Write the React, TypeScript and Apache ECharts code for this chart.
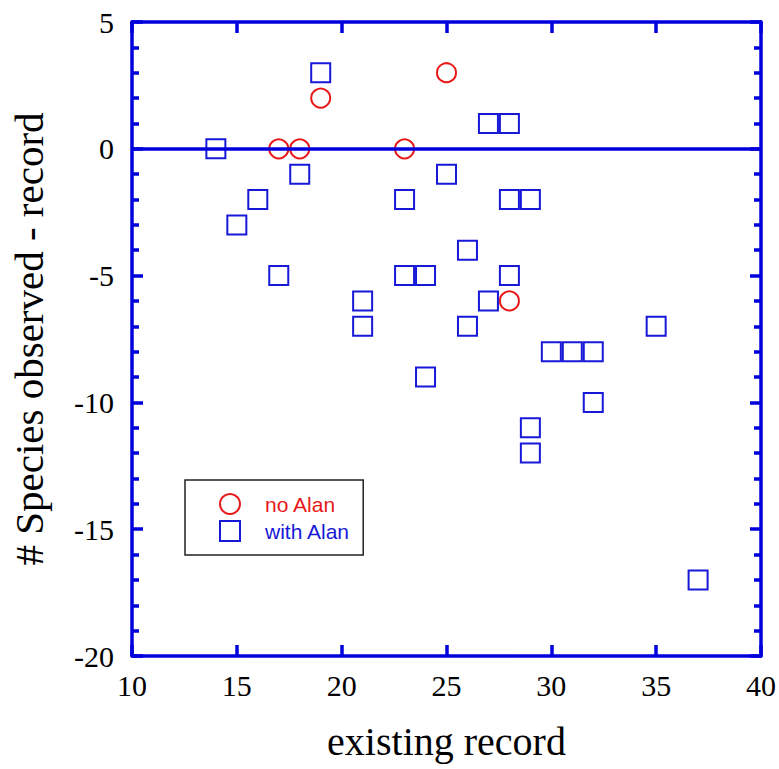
import React, { useEffect, useRef } from "react";
import * as echarts from "echarts";

const noAlan: [number, number][] = [
  [17, 0], [18, 0], [19, 2], [23, 0], [25, 3], [28, -6],
];
const withAlan: [number, number][] = [
  [14, 0], [15, -3], [16, -2], [17, -5], [18, -1], [19, 3],
  [21, -6], [21, -7], [23, -2], [23, -5], [24, -5], [24, -9],
  [25, -1], [26, -4], [26, -7], [27, 1], [27, -6], [28, 1],
  [28, -2], [28, -5], [29, -2], [29, -11], [29, -12], [30, -8],
  [31, -8], [32, -8], [32, -10], [35, -7], [37, -17],
];
const xRange = [10, 40];
const yRange = [-20, 5];
const xTitle = "existing record";
const yTitle = "# Species observed - record";
const seriesNames = ["no Alan", "with Alan"];

const AXIS = "#0000DD";
const RED = "#E81818";
const BLUE = "#1818D8";
const SERIF = "'Liberation Serif', 'Times New Roman', serif";
const SANS = "'Liberation Sans', Arial, sans-serif";

export default function App() {
  const ref = useRef<HTMLDivElement>(null);
  useEffect(() => {
    if (!ref.current) return;
    const chart = echarts.init(ref.current, undefined, { renderer: "svg" });
    const axisLine = { show: true, lineStyle: { color: AXIS, width: 3.5 } };
    const majorTick = { show: true, inside: true, length: 11, lineStyle: { color: AXIS, width: 3.5 } };
    const minorTick = { show: true, splitNumber: 5, length: 7, lineStyle: { color: AXIS, width: 3.5 } };
    chart.setOption({
      animation: false,
      backgroundColor: "#fff",
      grid: { left: 128, right: 18, top: 22, bottom: 113 },
      legend: {
        left: 185,
        top: 480,
        orient: "vertical",
        backgroundColor: "#fff",
        borderColor: "#222",
        borderWidth: 1.5,
        padding: [13, 13, 13, 34],
        itemGap: 5,
        itemWidth: 20,
        itemHeight: 20,
        textStyle: { fontFamily: SANS, fontSize: 21, padding: [0, 0, 0, 20] },
        data: [
          { name: seriesNames[0], textStyle: { color: RED } },
          { name: seriesNames[1], textStyle: { color: BLUE } },
        ],
      },
      xAxis: [
        {
          type: "value",
          min: xRange[0],
          max: xRange[1],
          interval: 5,
          position: "bottom",
          axisLine: { ...axisLine, onZero: false },
          axisTick: majorTick,
          splitLine: { show: false },
          axisLabel: { fontFamily: SERIF, fontSize: 30, color: "#000", margin: 14 },
          name: xTitle,
          nameLocation: "middle",
          nameGap: 65,
          nameTextStyle: { fontFamily: SERIF, fontSize: 40, color: "#000" },
        },
        {
          type: "value",
          min: xRange[0],
          max: xRange[1],
          interval: 5,
          position: "top",
          axisLine: { ...axisLine, onZero: false },
          axisTick: majorTick,
          splitLine: { show: false },
          axisLabel: { show: false },
        },
      ],
      yAxis: [
        {
          type: "value",
          min: yRange[0],
          max: yRange[1],
          interval: 5,
          position: "left",
          axisLine: { ...axisLine, onZero: false },
          axisTick: majorTick,
          minorTick,
          splitLine: { show: false },
          axisLabel: { fontFamily: SERIF, fontSize: 30, color: "#000", margin: 18 },
          name: yTitle,
          nameLocation: "middle",
          nameRotate: 90,
          nameGap: 83,
          nameTextStyle: { fontFamily: SERIF, fontSize: 41, color: "#000" },
        },
        {
          type: "value",
          min: yRange[0],
          max: yRange[1],
          interval: 5,
          position: "right",
          axisLine: { ...axisLine, onZero: false },
          axisTick: majorTick,
          minorTick,
          splitLine: { show: false },
          axisLabel: { show: false },
        },
      ],
      series: [
        {
          name: "zero",
          type: "line",
          data: [],
          z: 1,
          silent: true,
          markLine: {
            silent: true,
            symbol: "none",
            label: { show: false },
            lineStyle: { color: AXIS, width: 3.5, type: "solid" },
            data: [{ yAxis: 0 }],
          },
        },
        {
          name: seriesNames[0],
          type: "scatter",
          z: 3,
          symbol: "circle",
          symbolSize: 19,
          itemStyle: { color: "#fff", borderColor: RED, borderWidth: 2, opacity: 1 },
          data: noAlan,
        },
        {
          name: seriesNames[1],
          type: "scatter",
          z: 3,
          symbol: "rect",
          symbolSize: 19,
          itemStyle: { color: "#fff", borderColor: BLUE, borderWidth: 2, opacity: 1 },
          data: withAlan,
        },
      ],
    });
    return () => chart.dispose();
  }, []);
  return <div ref={ref} style={{ width: 779, height: 769, position: "absolute", left: 0, top: 0 }} />;
}
